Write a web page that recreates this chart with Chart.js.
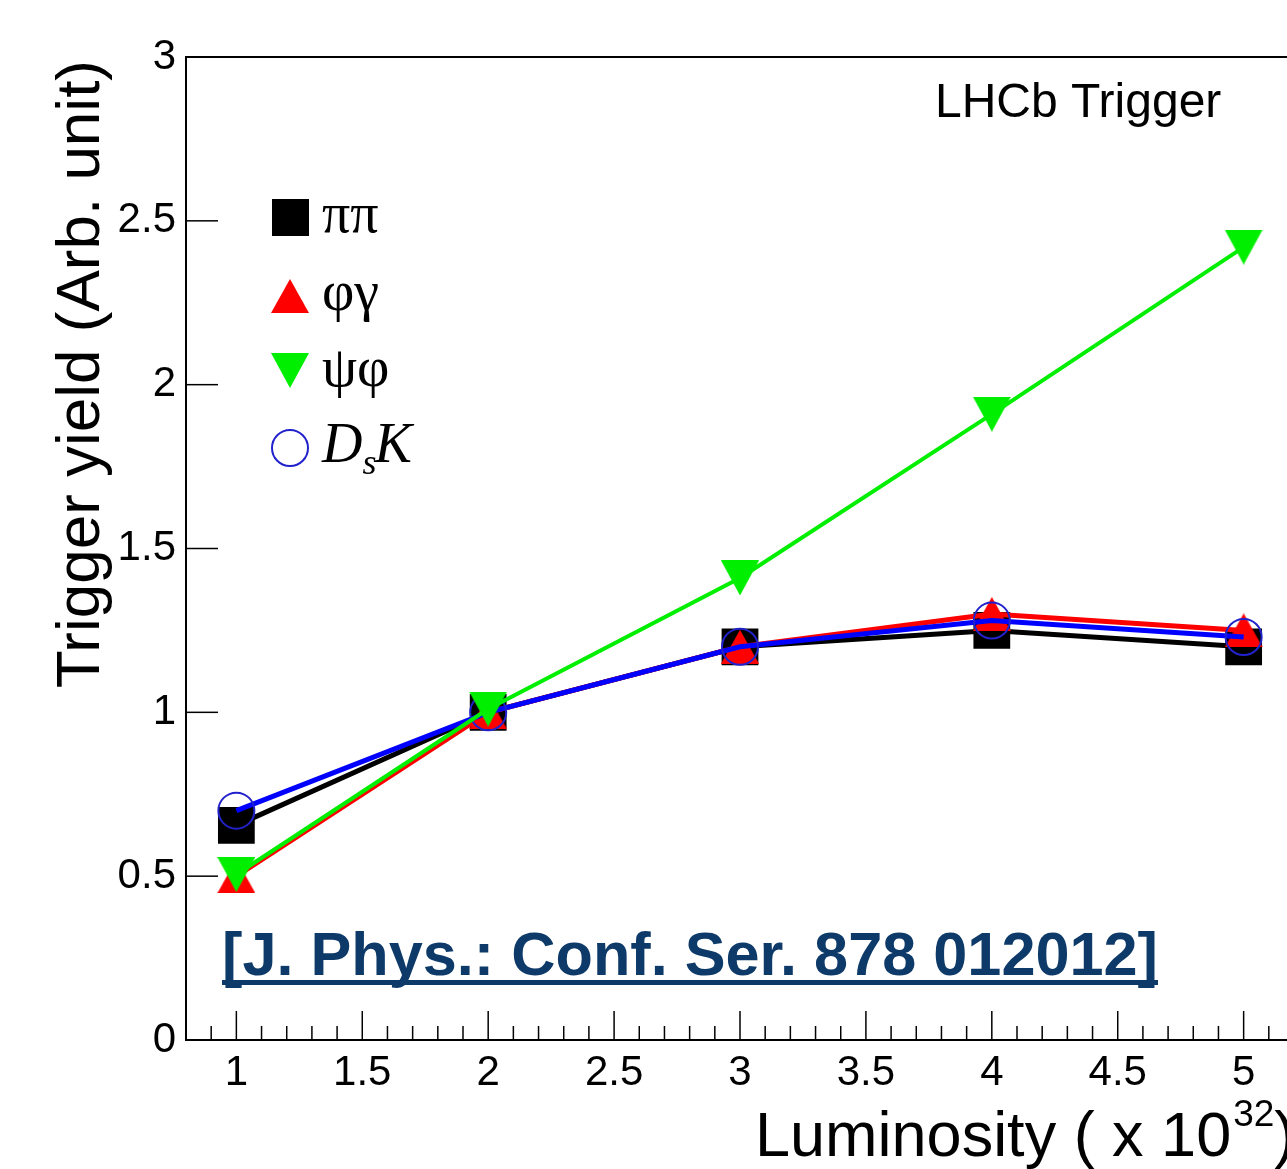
<!DOCTYPE html>
<html>
<head>
<meta charset="utf-8">
<script src="https://cdn.jsdelivr.net/npm/chart.js@4.4.1/dist/chart.umd.min.js"></script>
<style>
    html, body { margin: 0; padding: 0; background: #fff; overflow: hidden; }
    #yieldChart { display: block; }
</style>
</head>
<body>
<canvas id="yieldChart" width="1310" height="1169"></canvas>
<script>
// Luminosity points (x 10^32)
const luminosity = [1, 2, 3, 4, 5];
// Trigger yield per channel
const pipiYield = [0.655, 1.0, 1.2, 1.25, 1.2];
const phigammaYield = [0.5, 1.0, 1.2, 1.3, 1.25];
const psiphiYield = [0.505, 1.01, 1.41, 1.91, 2.42];
const dskYield = [0.70, 1.0, 1.2, 1.28, 1.23];
// axis tick labels
const xTickValues = [1, 1.5, 2, 2.5, 3, 3.5, 4, 4.5, 5];
const yTickValues = [0, 0.5, 1, 1.5, 2, 2.5, 3];

const toPoints = (ys) => ys.map((y, i) => ({ x: luminosity[i], y: y }));

const sans = "'Liberation Sans', Arial, Helvetica, sans-serif";
const serif = "'Liberation Serif', 'Times New Roman', serif";

// ROOT draws triangles centred on their bounding box, so build them as little images
function triangleMarker(color, w, h, down) {
    const c = document.createElement('canvas');
    c.width = w;
    c.height = h;
    const g = c.getContext('2d');
    g.fillStyle = color;
    g.beginPath();
    if (down) {
        g.moveTo(0, 0);
        g.lineTo(w, 0);
        g.lineTo(w / 2, h);
    } else {
        g.moveTo(w / 2, 0);
        g.lineTo(w, h);
        g.lineTo(0, h);
    }
    g.closePath();
    g.fill();
    return c;
}
const redUp = triangleMarker('#ff0000', 38, 34, false);
const greenDown = triangleMarker('#00ee00', 38, 35, true);

const decorPlugin = {
    id: 'decor',
    afterDraw: (chart) => {
        const { ctx, chartArea } = chart;
        const xs = chart.scales.x;
        const ys = chart.scales.y;
        ctx.save();

        // top and right frame lines
        ctx.strokeStyle = '#000';
        ctx.lineWidth = 2;
        ctx.beginPath();
        ctx.moveTo(chartArea.left, chartArea.top);
        ctx.lineTo(chartArea.right, chartArea.top);
        ctx.lineTo(chartArea.right, chartArea.bottom);
        ctx.stroke();

        // x ticks inside, every 0.1, major every 0.5
        ctx.lineWidth = 1.5;
        for (let i = 8; i <= 52; i++) {
            const px = xs.getPixelForValue(i / 10);
            const len = (i % 5 === 0) ? 29 : 14;
            ctx.beginPath();
            ctx.moveTo(px, chartArea.bottom);
            ctx.lineTo(px, chartArea.bottom - len);
            ctx.stroke();
        }
        // y ticks inside
        yTickValues.forEach(v => {
            const py = ys.getPixelForValue(v);
            ctx.beginPath();
            ctx.moveTo(chartArea.left, py);
            ctx.lineTo(chartArea.left + 32, py);
            ctx.stroke();
        });

        // y title
        ctx.fillStyle = '#000';
        ctx.save();
        ctx.translate(99, 60);
        ctx.rotate(-Math.PI / 2);
        ctx.font = `62px ${sans}`;
        ctx.textAlign = 'right';
        ctx.textBaseline = 'alphabetic';
        ctx.fillText('Trigger yield (Arb. unit)', 0, 0);
        ctx.restore();

        // x title with superscript
        ctx.textAlign = 'left';
        ctx.textBaseline = 'alphabetic';
        ctx.font = `63px ${sans}`;
        let tx = 755;
        const base = 1156;
        const part1 = 'Luminosity ( x 10';
        ctx.fillText(part1, tx, base);
        tx += ctx.measureText(part1).width + 2;
        ctx.font = `37px ${sans}`;
        ctx.fillText('32', tx, base - 30);
        tx += ctx.measureText('32').width;
        ctx.font = `63px ${sans}`;
        ctx.fillText(')', tx, base);

        // experiment label
        ctx.font = `48px ${sans}`;
        ctx.fillText('LHCb Trigger', 935, 117);

        // legend markers
        const lx = 290;
        ctx.fillStyle = '#000';
        ctx.fillRect(lx - 18, 199, 37, 37);
        ctx.drawImage(redUp, lx - 19, 279);
        ctx.drawImage(greenDown, lx - 19, 353);
        ctx.strokeStyle = '#2222cc';
        ctx.lineWidth = 2;
        ctx.beginPath();
        ctx.arc(lx, 448, 18, 0, Math.PI * 2);
        ctx.stroke();

        // legend text
        ctx.fillStyle = '#000';
        ctx.font = `56px ${serif}`;
        ctx.fillText('\u03c0\u03c0', 322, 232);
        ctx.fillText('\u03c6\u03b3', 322, 310);
        ctx.fillText('\u03c8\u03c6', 322, 386);
        ctx.font = `italic 56px ${serif}`;
        ctx.fillText('D', 322, 462);
        let dx = 322 + ctx.measureText('D').width;
        ctx.font = `italic 36px ${serif}`;
        ctx.fillText('s', dx, 474);
        dx += ctx.measureText('s').width;
        ctx.font = `italic 56px ${serif}`;
        ctx.fillText('K', dx - 2, 462);

        // reference label, condensed bold, underlined
        const ref = '[J. Phys.: Conf. Ser. 878 012012]';
        ctx.font = `bold 62px ${sans}`;
        const w = ctx.measureText(ref).width;
        const target = 936;
        ctx.save();
        ctx.translate(222, 975);
        ctx.scale(target / w, 1);
        ctx.fillStyle = '#0d3a68';
        ctx.fillText(ref, 0, 0);
        ctx.restore();
        ctx.fillStyle = '#0d3a68';
        ctx.fillRect(222, 980, target, 5);

        ctx.restore();
    }
};

const ctx = document.getElementById('yieldChart').getContext('2d');
new Chart(ctx, {
    type: 'line',
    data: {
        datasets: [
            {
                label: 'pipi',
                data: toPoints(pipiYield),
                borderColor: '#000000',
                backgroundColor: '#000000',
                borderWidth: 5,
                pointStyle: 'rect',
                pointRadius: 26,
                pointBorderWidth: 0,
                order: 3
            },
            {
                label: 'phigamma',
                data: toPoints(phigammaYield),
                borderColor: '#ff0000',
                backgroundColor: '#ff0000',
                borderWidth: 5,
                pointStyle: redUp,
                order: 2
            },
            {
                label: 'DsK',
                data: toPoints(dskYield),
                borderColor: '#0000ff',
                backgroundColor: 'rgba(0,0,0,0)',
                pointBorderColor: '#2222cc',
                borderWidth: 5,
                pointStyle: 'circle',
                pointRadius: 18,
                pointBorderWidth: 2,
                order: 1
            },
            {
                label: 'psiphi',
                data: toPoints(psiphiYield),
                borderColor: '#00ee00',
                backgroundColor: '#00ee00',
                borderWidth: 4,
                pointStyle: greenDown,
                order: 0
            }
        ]
    },
    options: {
        responsive: false,
        animation: false,
        layout: {
            autoPadding: false,
            padding: { top: 57, right: 16, left: 0, bottom: 0 }
        },
        plugins: {
            legend: { display: false },
            tooltip: { enabled: false }
        },
        scales: {
            x: {
                type: 'linear',
                min: 0.8,
                max: 5.2,
                afterBuildTicks: (scale) => {
                    scale.ticks = xTickValues.map(v => ({ value: v }));
                },
                afterFit: (scale) => {
                    scale.height = 129;
                    scale.paddingLeft = 0;
                    scale.paddingRight = 0;
                },
                grid: { display: false, drawTicks: false },
                border: { display: true, color: '#000', width: 2 },
                ticks: {
                    color: '#000',
                    font: { family: sans, size: 42 },
                    padding: 8,
                    maxRotation: 0,
                    autoSkip: false,
                    callback: (v) => String(v)
                }
            },
            y: {
                min: 0,
                max: 3,
                afterBuildTicks: (scale) => {
                    scale.ticks = yTickValues.map(v => ({ value: v }));
                },
                afterFit: (scale) => { scale.width = 186; },
                grid: { display: false, drawTicks: false },
                border: { display: true, color: '#000', width: 2 },
                ticks: {
                    color: '#000',
                    font: { family: sans, size: 42 },
                    padding: 10,
                    autoSkip: false,
                    callback: (v) => String(v)
                }
            }
        }
    },
    plugins: [decorPlugin]
});
</script>
</body>
</html>
